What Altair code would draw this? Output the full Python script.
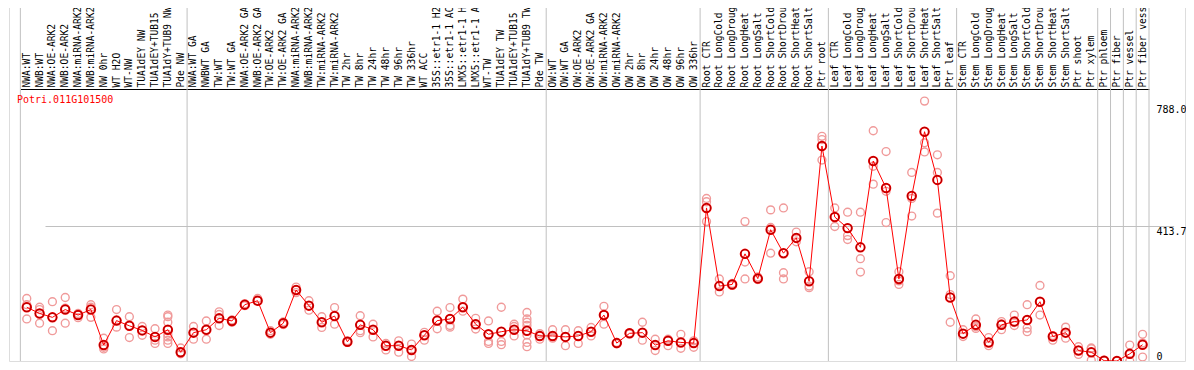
import altair as alt
import pandas as pd

FONT = "DejaVu Sans Mono"

title_text = "Potri.011G101500"

labels = [
    "NWA:WT", "NWB:WT", "NWA:OE-ARK2", "NWB:OE-ARK2", "NWA:miRNA-ARK2", "NWB:miRNA-ARK2",
    "NW 0hr", "WT H2O", "WT-NW", "TUA1dEY NW", "TUA1dEY+TUB15 NW", "TUA1dY+TUB9 NW", "Pde NW",
    "NWA:WT GA", "NWBWT GA", "TW:WT", "TW:WT GA", "NWA:OE-ARK2 GA", "NWB:OE-ARK2 GA",
    "TW:OE-ARK2", "TW:OE-ARK2 GA", "NWA:miRNA-ARK2 GA", "NWB:miRNA-ARK2 GA",
    "TW:miRNA-ARK2", "TW:miRNA-ARK2 GA", "TW 2hr", "TW 8hr", "TW 24hr", "TW 48hr",
    "TW 96hr", "TW 336hr", "WT ACC", "35S::etr1-1 H2O", "35S::etr1-1 ACC",
    "LMX5::etr1-1 H2O", "LMX5::etr1-1 ACC", "WT-TW", "TUA1dEY TW", "TUA1dEY+TUB15 TW",
    "TUA1dY+TUB9 TW", "Pde TW",
    "OW:WT", "OW:WT GA", "OW:OE-ARK2", "OW:OE-ARK2 GA", "OW:miRNA-ARK2", "OW:miRNA-ARK2 GA",
    "OW 2hr", "OW 8hr", "OW 24hr", "OW 48hr", "OW 96hr", "OW 336hr",
    "Root CTR", "Root LongCold", "Root LongDrought", "Root LongHeat", "Root LongSalt",
    "Root ShortCold", "Root ShortDrought", "Root ShortHeat", "Root ShortSalt", "Ptr root",
    "Leaf CTR", "Leaf LongCold", "Leaf LongDrought", "Leaf LongHeat", "Leaf LongSalt",
    "Leaf ShortCold", "Leaf ShortDrought", "Leaf ShortHeat", "Leaf ShortSalt", "Ptr leaf",
    "Stem CTR", "Stem LongCold", "Stem LongDrought", "Stem LongHeat", "Stem LongSalt",
    "Stem ShortCold", "Stem ShortDrought", "Stem ShortHeat", "Stem ShortSalt",
    "Ptr shoot", "Ptr xylem",
    "Ptr phloem", "Ptr fiber", "Ptr vessel", "Ptr fiber vessel",
]

group_sizes = [13, 28, 12, 10, 10, 11, 1, 1, 1, 1]

means = [
    165, 146, 134, 158, 141, 158, 49, 124, 108, 94, 74, 96, 27,
    87, 96, 131, 123, 173, 185, 87, 116, 218, 170, 119, 138, 59, 111, 96, 47, 47, 34, 79,
    124, 129, 165, 113, 82, 90, 96, 93, 77,
    77, 74, 77, 90, 141, 55, 85, 87, 49, 62, 57, 55,
    470, 230, 235, 329, 253, 403, 331, 378, 245, 660,
    442, 408, 349, 614, 531, 252, 507, 704, 556, 195,
    84, 111, 57, 111, 121, 126, 182, 75, 87, 32, 27,
    1, 0, 22, 50,
]

replicates = [
    [192, 173, 129], [165, 158, 116], [182, 134, 93], [195, 162, 116], [146, 141, 133],
    [173, 165, 134], [70, 42, 37], [158, 124, 104], [136, 108, 72], [106, 94, 79],
    [99, 64, 54], [141, 136, 119, 96, 82, 74, 64, 54], [40, 27, 22],
    [106, 87, 67], [123, 96, 67], [151, 143, 131, 109], [126, 123, 119], [176, 170],
    [192, 185], [93, 87, 82], [120, 112], [227, 218, 210], [185, 170, 156],
    [136, 119, 103], [164, 138, 113], [62, 57], [139, 111, 93, 87], [113, 96, 74],
    [54, 47, 34], [62, 47, 27], [52, 34, 14], [88, 79, 64], [153, 124, 99],
    [164, 129, 109, 104], [190, 165, 153], [131, 113, 98], [123, 82, 60, 54],
    [165, 60, 50], [113, 106, 77], [149, 129, 119, 109, 80, 57, 44], [84, 77, 67],
    [96, 77, 70], [96, 74, 47], [93, 77, 54], [103, 90, 77], [168, 141, 113], [57, 53],
    [87, 83], [119, 87, 64], [67, 49, 32], [67, 62, 47], [82, 57, 39], [62, 55, 42],
    [499, 489, 428], [252, 230, 212], [238, 232], [428, 304, 252], [258, 250],
    [464, 410, 331], [470, 271, 252], [396, 378, 366], [274, 230, 225], [690, 680, 617],
    [470, 442, 413], [457, 385, 373], [457, 314, 273], [707, 598, 543], [643, 521, 425],
    [274, 246, 235], [579, 499, 445], [798, 670, 642], [633, 579, 454], [262, 204, 119],
    [96, 84, 75], [129, 105, 100], [72, 57, 47], [121, 114, 96], [141, 118, 109],
    [173, 126, 101, 90], [232, 182, 141], [78, 75, 64], [104, 87, 70], [44, 32, 20],
    [40, 38, 2], [3, 1, 0], [0, 0], [49, 20, 0], [82, 55, 12],
]

y_ticks = [0, 413.7, 788.0]

# ---- tables ----
df_mean = pd.DataFrame({"label": labels, "idx": list(range(len(labels))), "value": means})
rows = []
for lab, reps in zip(labels, replicates):
    for v in reps:
        rows.append({"label": lab, "value": v})
df_rep = pd.DataFrame(rows)

starts = []
pos = 0
for g in group_sizes:
    starts.append(labels[pos])
    pos += g
df_start = pd.DataFrame({"label": starts})
df_end = pd.DataFrame({"label": [labels[-1]]})
df_title = pd.DataFrame({"t": [title_text]})

W, H = 1176, 355

xscale = alt.Scale(type="band", domain=labels, range=[11.35, 1140], paddingInner=0, paddingOuter=0)
xaxis = alt.Axis(
    orient="top", offset=-83, labelAngle=-90, labelAlign="left", labelBaseline="middle",
    labelPadding=2, labelExpr="substring(datum.label, 0, 14)", labelFont=FONT,
    labelFontSize=9.6, labelColor="black", labelOverlap=False, labelLimit=0,
    ticks=False, tickSize=0, grid=False, domain=True, domainColor="black",
    domainWidth=1, title=None,
)
yscale = alt.Scale(domain=[0, 1090], nice=False, zero=True)
yaxis = alt.Axis(
    orient="right", offset=-36, values=y_ticks,
    labelExpr="datum.value == 0 ? '0' : format(datum.value, '.1f')",
    labelAlign="left",
    labelBaseline={"condition": {"test": "datum.value == 0", "value": "bottom"}, "value": "top"},
    labelPadding=7, labelFont=FONT, labelFontSize=10, labelColor="black",
    domain=False, ticks=False, tickSize=0, grid=True, gridColor="#c0c0c0",
    gridOpacity={"condition": {"test": "datum.value == 413.7", "value": 1}, "value": 0},
    title=None,
)

X = alt.X("label:N", scale=xscale, axis=xaxis)
Y = alt.Y("value:Q", scale=yscale, axis=yaxis)

rules_start = alt.Chart(df_start).mark_rule(color="#c0c0c0", strokeWidth=1).encode(
    x=alt.X("label:N", scale=xscale, axis=xaxis, bandPosition=0)
)
rules_end = alt.Chart(df_end).mark_rule(color="#c0c0c0", strokeWidth=1).encode(
    x=alt.X("label:N", scale=xscale, axis=xaxis, bandPosition=1)
)
reps_layer = alt.Chart(df_rep).mark_point(
    shape="circle", filled=False, size=62, strokeWidth=1.4, color="#f09a9a", opacity=1, clip=True
).encode(x=X, y=Y)
line_layer = alt.Chart(df_mean).mark_line(color="#ff0000", strokeWidth=1, clip=True).encode(
    x=X, y=Y, order=alt.Order("idx:Q")
)
mean_layer = alt.Chart(df_mean).mark_point(
    shape="circle", filled=False, size=72, strokeWidth=2, color="#ff0000", opacity=1, clip=True
).encode(x=X, y=Y)
mean_inner = alt.Chart(df_mean).mark_point(
    shape="circle", filled=False, size=72, strokeWidth=0.6, color="#500000", opacity=0.9, clip=True
).encode(x=X, y=Y)
title_layer = alt.Chart(df_title).mark_text(
    align="left", baseline="middle", font=FONT, fontSize=10, color="#ff0000"
).encode(x=alt.value(8), y=alt.value(93.5), text="t:N")

chart = alt.layer(
    rules_start, rules_end, reps_layer, line_layer, mean_layer, mean_inner, title_layer
).properties(
    width=W, height=H,
    padding={"left": 1, "right": 1, "top": -2, "bottom": 1},
    autosize=alt.AutoSizeParams(type="none"),
).configure_view(
    stroke="black", strokeWidth=2
).configure(background="white")

chart.save("out.html", embed_options={"renderer": "svg", "actions": False})
